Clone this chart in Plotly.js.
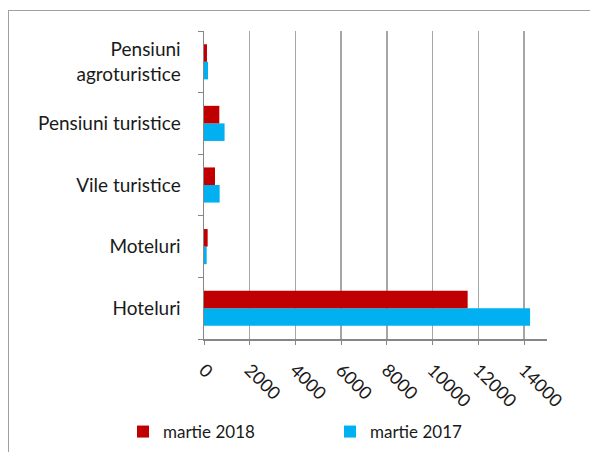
<!DOCTYPE html>
<html><head><meta charset="utf-8">
<script src="https://cdn.plot.ly/plotly-3.0.1.min.js"></script>
<style>html,body{margin:0;padding:0;background:#fff}
#wrap{position:relative;width:590px;height:452px;overflow:hidden}
#c{width:590px;height:452px}
#frame{position:absolute;left:8px;top:10px;width:600px;height:460px;border-left:1px solid #a0a0a0;border-top:1px solid #a0a0a0;pointer-events:none}
</style>
</head><body><div id="wrap"><div id="c"></div><div id="frame"></div></div>
<script>
const categories = ["Hoteluri", "Moteluri", "Vile turistice", "Pensiuni turistice", "Pensiuni<br>agroturistice"];
const values2018 = [11530, 160, 480, 670, 130];
const values2017 = [14260, 117, 684, 900, 174];
const xTicks = [0, 2000, 4000, 6000, 8000, 10000, 12000, 14000];

const W = 590, H = 452;
const L = 204, R = 43, T = 31, B = 113;
const pw = W - L - R, ph = H - T - B;
const fam = "Lato, 'Open Sans', sans-serif";

const traces = [
  {type: "bar", orientation: "h", name: "martie 2017", y: categories, x: values2017,
   marker: {color: "#00b0f0"}},
  {type: "bar", orientation: "h", name: "martie 2018", y: categories, x: values2018,
   marker: {color: "#c00000"}}
];

const layout = {
  width: W, height: H,
  margin: {l: L, r: R, t: T, b: B, pad: 0, autoexpand: false},
  paper_bgcolor: "#fff", plot_bgcolor: "#fff",
  font: {family: fam, size: 19, color: "#1a1a1a"},
  barmode: "group", bargap: 0.43, bargroupgap: 0,
  showlegend: true,
  legend: {orientation: "h", traceorder: "reversed", xref: "paper", yref: "paper",
           x: (123 - L) / pw, xanchor: "left", y: -(432 - T - ph) / ph, yanchor: "middle",
           bgcolor: "rgba(0,0,0,0)",
           entrywidth: 162, entrywidthmode: "pixels", itemwidth: 30,
           font: {family: fam, size: 17, color: "#1a1a1a"}},
  xaxis: {range: [0, 15000], tickvals: xTicks, ticktext: xTicks.map(String),
          tickangle: 45, showgrid: true, gridcolor: "#a6a6a6", gridwidth: 1.5,
          zeroline: false, showline: true, linecolor: "#868686", linewidth: 1.5,
          ticks: "outside", ticklen: 4, tickcolor: "#868686", automargin: false,
          ticklabelstandoff: 8,
          tickfont: {family: fam, size: 18, color: "#1a1a1a"}, fixedrange: true},
  yaxis: {type: "category", tickson: "boundaries", showgrid: false, automargin: false,
          showline: true, linecolor: "#868686", linewidth: 1.5,
          ticks: "outside", ticklen: 5, tickcolor: "#868686",
          ticklabelstandoff: 18,
          tickfont: {family: fam, size: 19, color: "#1a1a1a"}}
};

Plotly.newPlot("c", traces, layout, {displayModeBar: false, staticPlot: true});
</script></body></html>
